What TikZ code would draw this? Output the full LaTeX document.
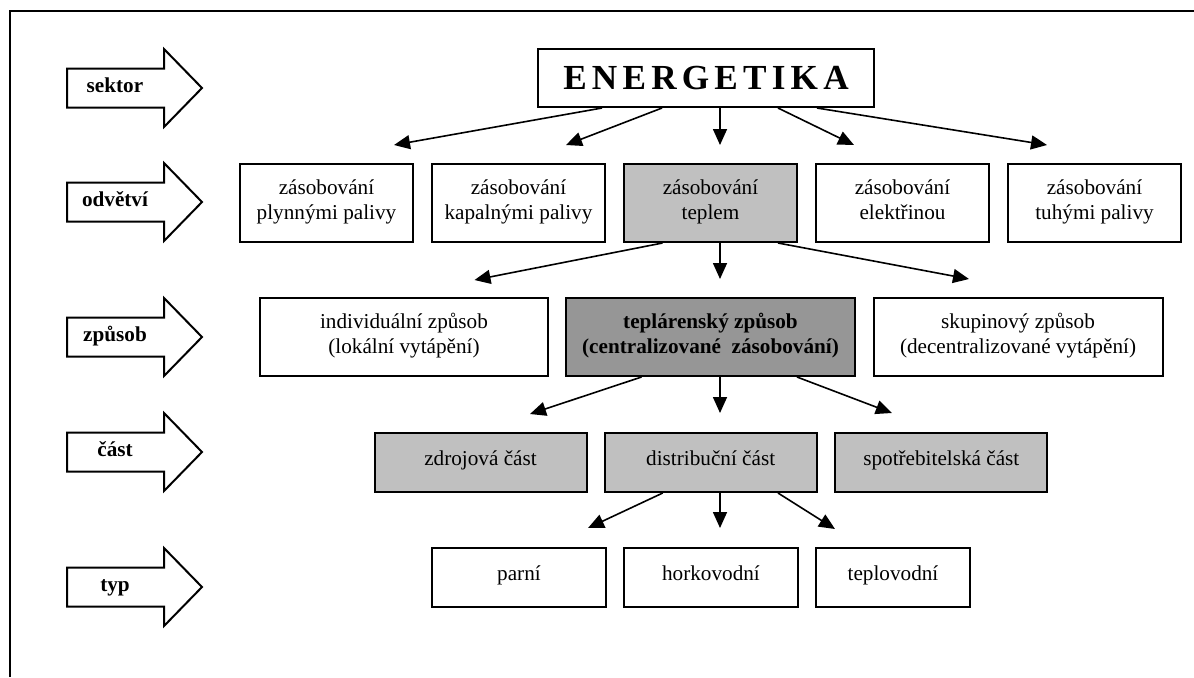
\documentclass[tikz,border=0pt]{standalone}
\usepackage{fontspec}
\setmainfont{Liberation Serif}
\usetikzlibrary{arrows.meta,calc}
\definecolor{lightfill}{HTML}{C0C0C0}
\definecolor{darkfill}{HTML}{969696}
\begin{document}
\begin{tikzpicture}[x=0.5pt,y=-0.5pt,
  box/.style={draw=black,line width=1pt,rectangle,inner sep=0pt,align=center,
    font=\fontsize{10.6}{12.6}\selectfont},
  twoline/.style={box,execute at begin node=\strut,execute at end node=\strut},
  rowtwo/.style={twoline,minimum width=86.5pt,minimum height=39pt},
  rowthree/.style={twoline,minimum width=144.5pt,minimum height=39pt},
  rowfour/.style={box,minimum width=106pt,minimum height=29.5pt,text height=7.4pt,text depth=4.9pt},
  rowfive/.style={box,minimum width=87pt,minimum height=29.5pt,text height=7.4pt,text depth=4.9pt},
  con/.style={line width=0.8pt,-{Triangle[length=8pt,width=7pt]}},
  blockarrow/.style={draw=black,line width=1pt,fill=white,line join=miter},
  lab/.style={font=\bfseries\fontsize{10.6}{12.6}\selectfont,inner sep=0pt,anchor=base}
]
\useasboundingbox (0,0) rectangle (1194,677);
% frame
\draw[line width=1pt] (10,677) -- (10,11) -- (1194,11);

% level arrows
\foreach \yy/\tt/\nn in {88/sektor/lsek,202/odvětví/lodv,337/způsob/lzpu,452/část/lcas,587/typ/ltyp}{
  \draw[blockarrow] (67,\yy-19.5) -- (164,\yy-19.5) -- (164,\yy-39) -- (202,\yy)
     -- (164,\yy+39) -- (164,\yy+19.5) -- (67,\yy+19.5) -- cycle;
  \node[lab] (\nn) at (115,\yy+4) {\tt};
}

% top
\node[box,minimum width=168pt,minimum height=29pt,font=\bfseries\fontsize{17.6}{20}\selectfont]
  (ener) at (706,78) {E\kern2.6pt N\kern2.6pt E\kern2.6pt R\kern2.6pt G\kern2.6pt E\kern2.6pt T\kern2.6pt I\kern2.6pt K\kern2.6pt A};

% row 2
\node[rowtwo] (ply) at (326.5,203) {zásobování\\plynnými palivy};
\node[rowtwo] (kap) at (518.5,203) {zásobování\\kapalnými palivy};
\node[rowtwo,fill=lightfill] (tep) at (710.5,203) {zásobování\\teplem};
\node[rowtwo] (ele) at (902.5,203) {zásobování\\elektřinou};
\node[rowtwo] (tuh) at (1094.5,203) {zásobování\\tuhými palivy};

% row 3
\node[rowthree,minimum width=144.25pt] (ind) at (404,337) {individuální způsob\\(lokální vytápění)};
\node[rowthree,fill=darkfill,font=\bfseries\fontsize{10.6}{12.6}\selectfont] (tpl) at (710.5,337) {teplárenský způsob\\(centralizované~ zásobování)};
\node[rowthree] (sku) at (1018,337) {skupinový způsob\\(decentralizované vytápění)};

% row 4
\node[rowfour,fill=lightfill] (zdr) at (480.5,462.5) {zdrojová část};
\node[rowfour,fill=lightfill] (dis) at (710.7,462.5) {distribuční část};
\node[rowfour,fill=lightfill] (spo) at (941.3,462.5) {spotřebitelská část};

% row 5
\node[rowfive] (par) at (519,577.5) {parní};
\node[rowfive] (hor) at (711,577.5) {horkovodní};
\node[rowfive,minimum width=77pt] (tpv) at (893,577.5) {teplovodní};

% connectors
\draw[con] ($(ener.south)+(-104,0)$) -- ($(ply.north)+(67.5,-18)$);
\draw[con] ($(ener.south)+(-44,0)$) -- ($(kap.north)+(47.5,-18)$);
\draw[con] ($(ener.south)+(14,0)$) -- ($(tep.north)+(9.5,-18)$);
\draw[con] ($(ener.south)+(72,0)$) -- ($(ele.north)+(-48.5,-18)$);
\draw[con] ($(ener.south)+(111,0)$) -- ($(tuh.north)+(-47.5,-18)$);

\draw[con] ($(tep.south)+(-48,0)$) -- ($(ind.north)+(70.5,-17)$);
\draw[con] ($(tep.south)+(9.5,0)$) -- ($(tpl.north)+(9.5,-18)$);
\draw[con] ($(tep.south)+(67.5,0)$) -- ($(sku.north)+(-49,-18)$);

\draw[con] ($(tpl.south)+(-69,0)$) -- ($(zdr.north)+(49.5,-18)$);
\draw[con] ($(tpl.south)+(9.5,0)$) -- ($(dis.north)+(9.3,-19)$);
\draw[con] ($(tpl.south)+(86.5,0)$) -- ($(spo.north)+(-49.5,-19)$);

\draw[con] ($(dis.south)+(-48,0)$) -- ($(par.north)+(69,-19)$);
\draw[con] ($(dis.south)+(9.3,0)$) -- ($(hor.north)+(9,-19)$);
\draw[con] ($(dis.south)+(67.3,0)$) -- ($(tpv.north)+(-58,-18)$);
\end{tikzpicture}
\end{document}
